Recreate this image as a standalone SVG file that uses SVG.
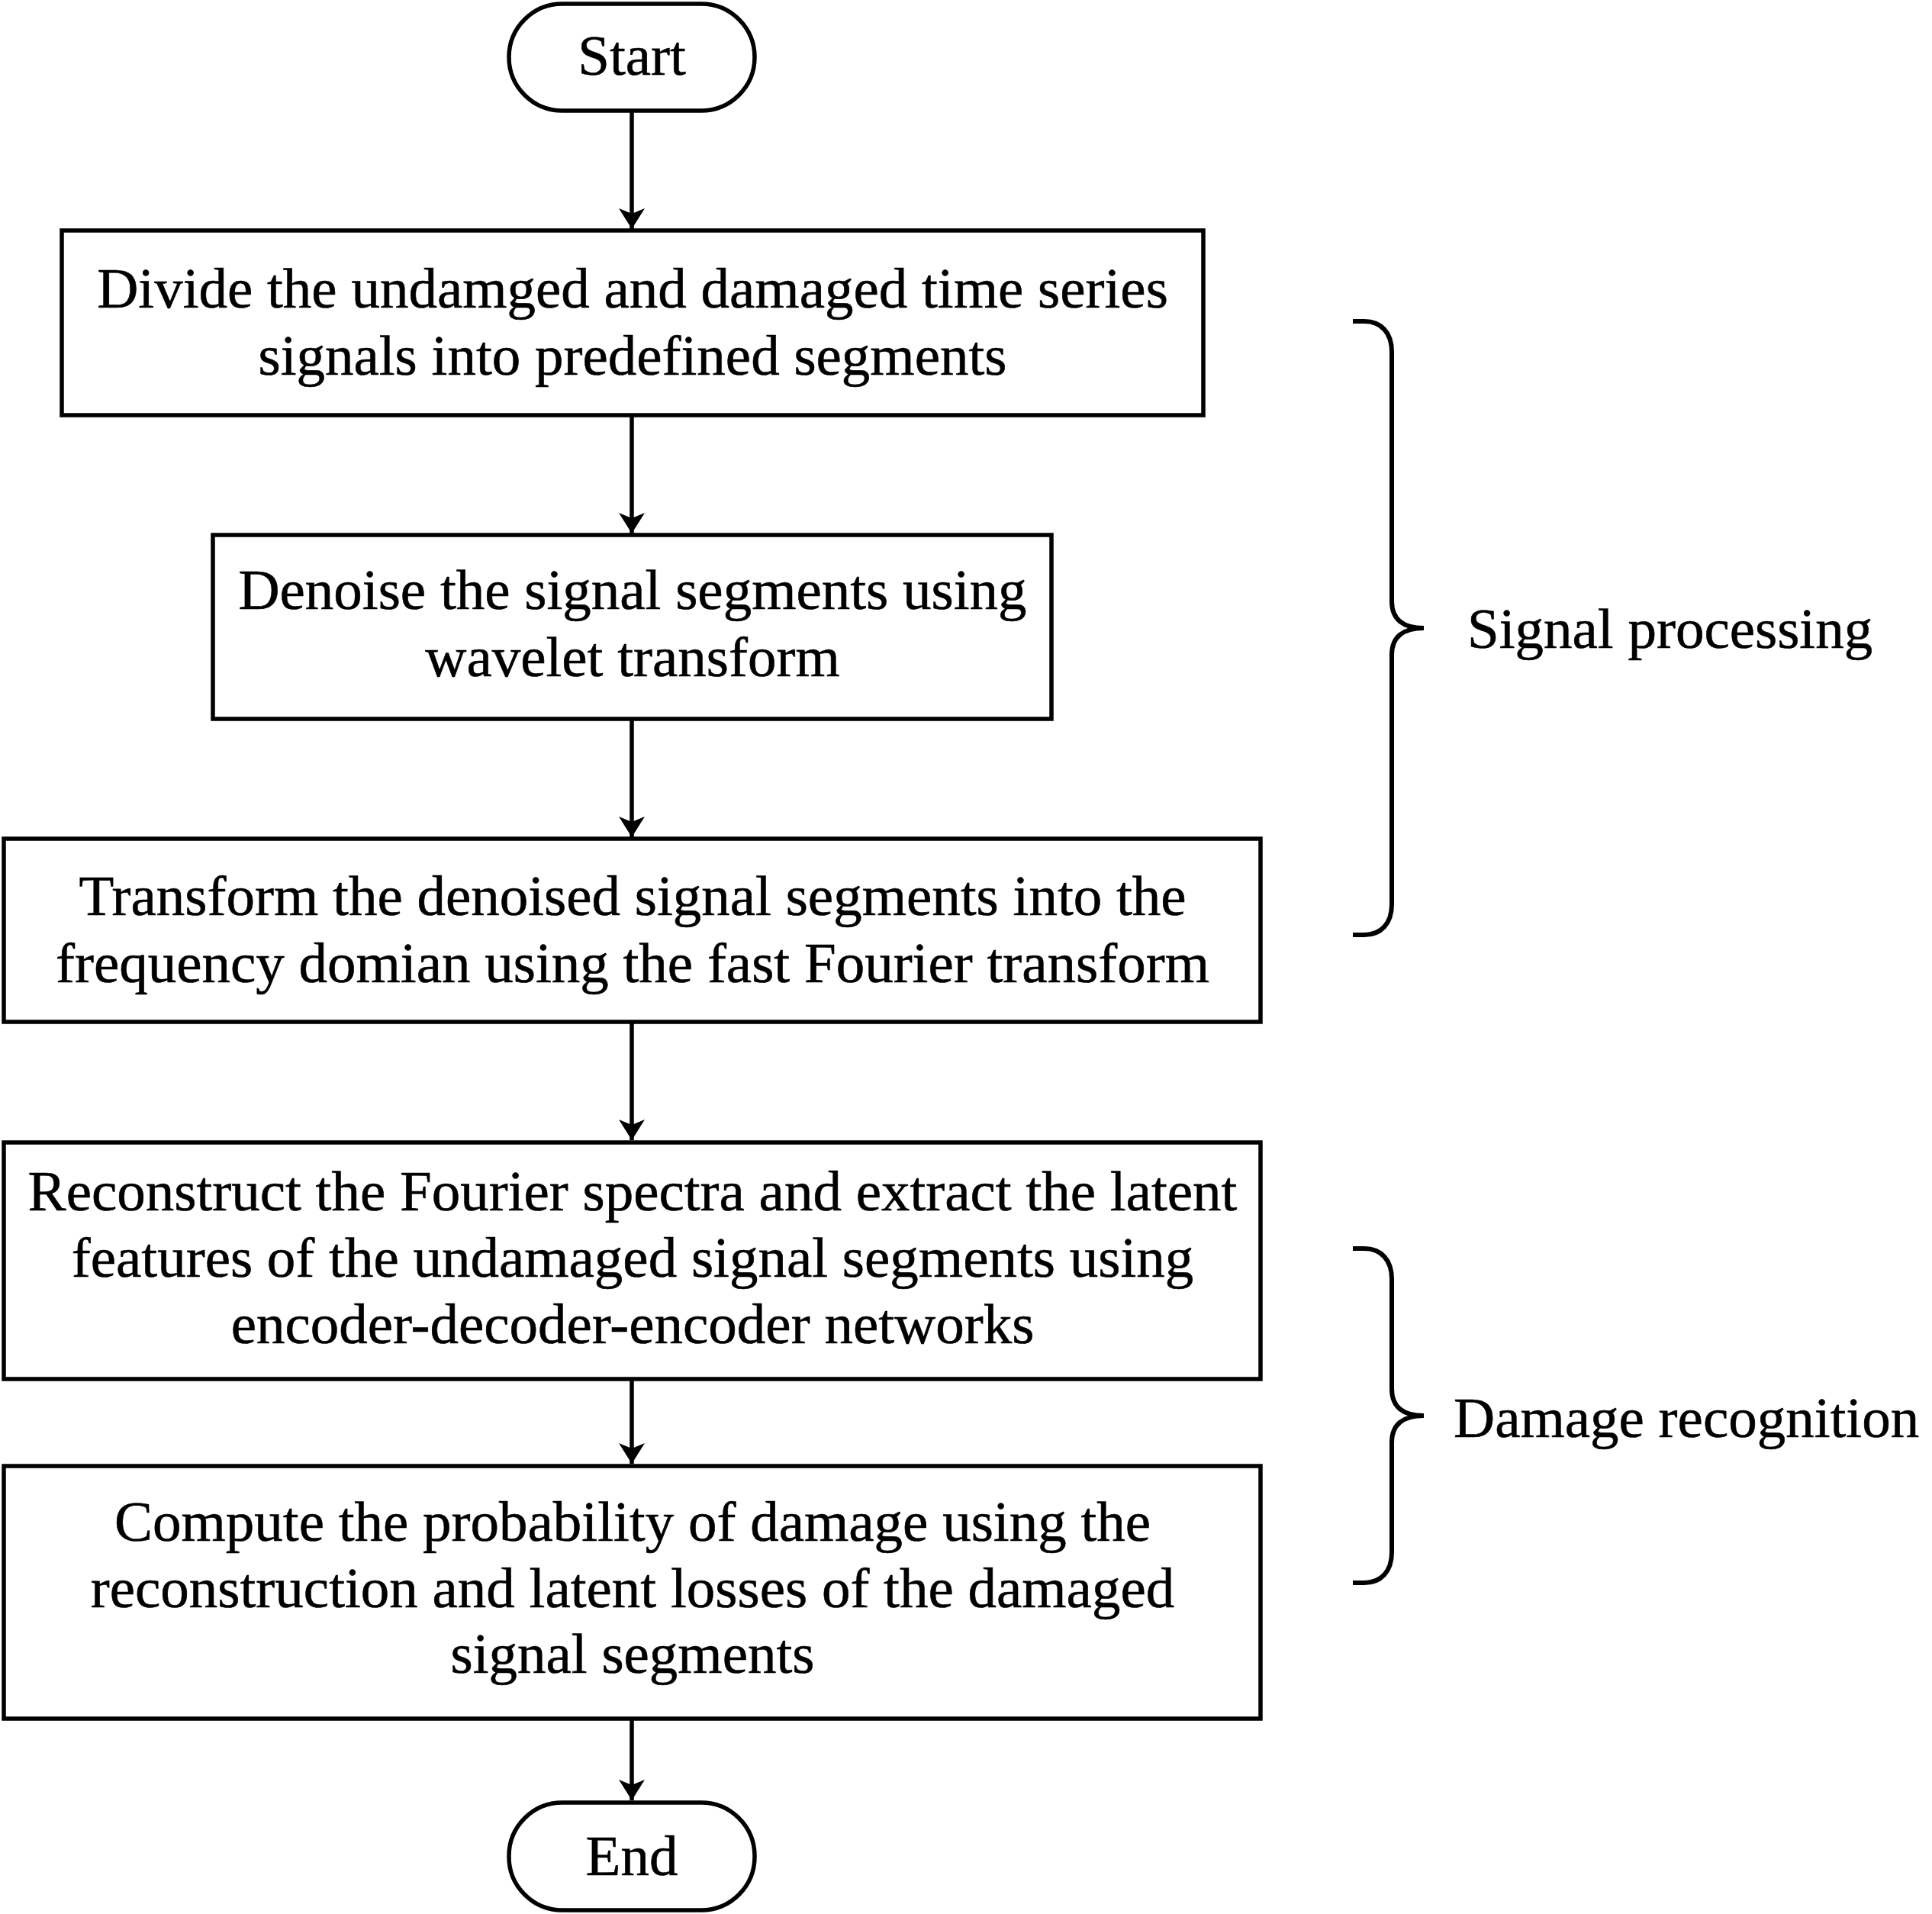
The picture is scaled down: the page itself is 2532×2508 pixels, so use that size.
<svg xmlns="http://www.w3.org/2000/svg" width="2532" height="2508" viewBox="0 0 2532 2508">
  <style>
    .box { fill: #ffffff; stroke: #000000; stroke-width: 5.5; }
    .txt { font-family: "Liberation Serif", "Times New Roman", serif; font-size: 75px; fill: #000000; stroke: #000000; stroke-width: 0.6; }
    .mid { text-anchor: middle; }
    .conn { stroke: #000000; stroke-width: 5.5; fill: none; }
    .brace { stroke: #000000; stroke-width: 6; fill: none; stroke-linecap: butt; }
  </style>
  <defs>
    <marker id="arr" markerUnits="userSpaceOnUse" viewBox="0 0 27 34" markerWidth="27" markerHeight="34" refX="27" refY="17" orient="auto">
      <path d="M0,0 L27,17 L0,34 L7,17 Z" fill="#000000"/>
    </marker>
  </defs>
  <rect width="2532" height="2508" fill="#ffffff"/>

  <g id="connectors">
    <line class="conn" x1="828" y1="145" x2="828" y2="300" marker-end="url(#arr)"/>
    <line class="conn" x1="828" y1="544" x2="828" y2="699" marker-end="url(#arr)"/>
    <line class="conn" x1="828" y1="942" x2="828" y2="1097" marker-end="url(#arr)"/>
    <line class="conn" x1="828" y1="1339" x2="828" y2="1494" marker-end="url(#arr)"/>
    <line class="conn" x1="828" y1="1807" x2="828" y2="1918" marker-end="url(#arr)"/>
    <line class="conn" x1="828" y1="2252" x2="828" y2="2359" marker-end="url(#arr)"/>
  </g>

  <g id="start">
    <rect class="box" x="667" y="5" width="322" height="140" rx="70" ry="70"/>
    <text class="txt mid" x="828" y="98">Start</text>
  </g>

  <g id="divide">
    <rect class="box" x="81" y="302" width="1496" height="242"/>
    <text class="txt mid" x="829" y="403">Divide the undamged and damaged time series</text>
    <text class="txt mid" x="829" y="491">signals into predefined segments</text>
  </g>

  <g id="denoise">
    <rect class="box" x="279" y="701" width="1099" height="241"/>
    <text class="txt mid" x="829" y="798">Denoise the signal segments using</text>
    <text class="txt mid" x="829" y="886">wavelet transform</text>
  </g>

  <g id="transform">
    <rect class="box" x="5" y="1099" width="1647" height="240"/>
    <text class="txt mid" x="829" y="1199">Transform the denoised signal segments into the</text>
    <text class="txt mid" x="829" y="1287">frequency domian using the fast Fourier transform</text>
  </g>

  <g id="reconstruct">
    <rect class="box" x="5" y="1497" width="1647" height="310"/>
    <text class="txt mid" x="829" y="1586">Reconstruct the Fourier spectra and extract the latent</text>
    <text class="txt mid" x="829" y="1673">features of the undamaged signal segments using</text>
    <text class="txt mid" x="829" y="1760">encoder-decoder-encoder networks</text>
  </g>

  <g id="compute">
    <rect class="box" x="5" y="1921" width="1647" height="331"/>
    <text class="txt mid" x="829" y="2019">Compute the probability of damage using the</text>
    <text class="txt mid" x="829" y="2106">reconstruction and latent losses of the damaged</text>
    <text class="txt mid" x="829" y="2192">signal segments</text>
  </g>

  <g id="end">
    <rect class="box" x="667" y="2362" width="322" height="141" rx="70" ry="70"/>
    <text class="txt mid" x="828" y="2457">End</text>
  </g>

  <g id="signal-processing">
    <path class="brace" d="M1773,421 H1788 C1810,421 1824,436 1824,461 V788 C1824,811 1838,823 1866,823 C1838,823 1824,835 1824,858 V1185 C1824,1210 1810,1225 1788,1225 H1773"/>
    <text class="txt" x="1923" y="849">Signal processing</text>
  </g>

  <g id="damage-recognition">
    <path class="brace" d="M1773,1636 H1788 C1810,1636 1824,1651 1824,1676 V1820 C1824,1843 1838,1855 1866,1855 C1838,1855 1824,1867 1824,1890 V2034 C1824,2059 1810,2074 1788,2074 H1773"/>
    <text class="txt" x="1905" y="1883">Damage recognition</text>
  </g>
</svg>
